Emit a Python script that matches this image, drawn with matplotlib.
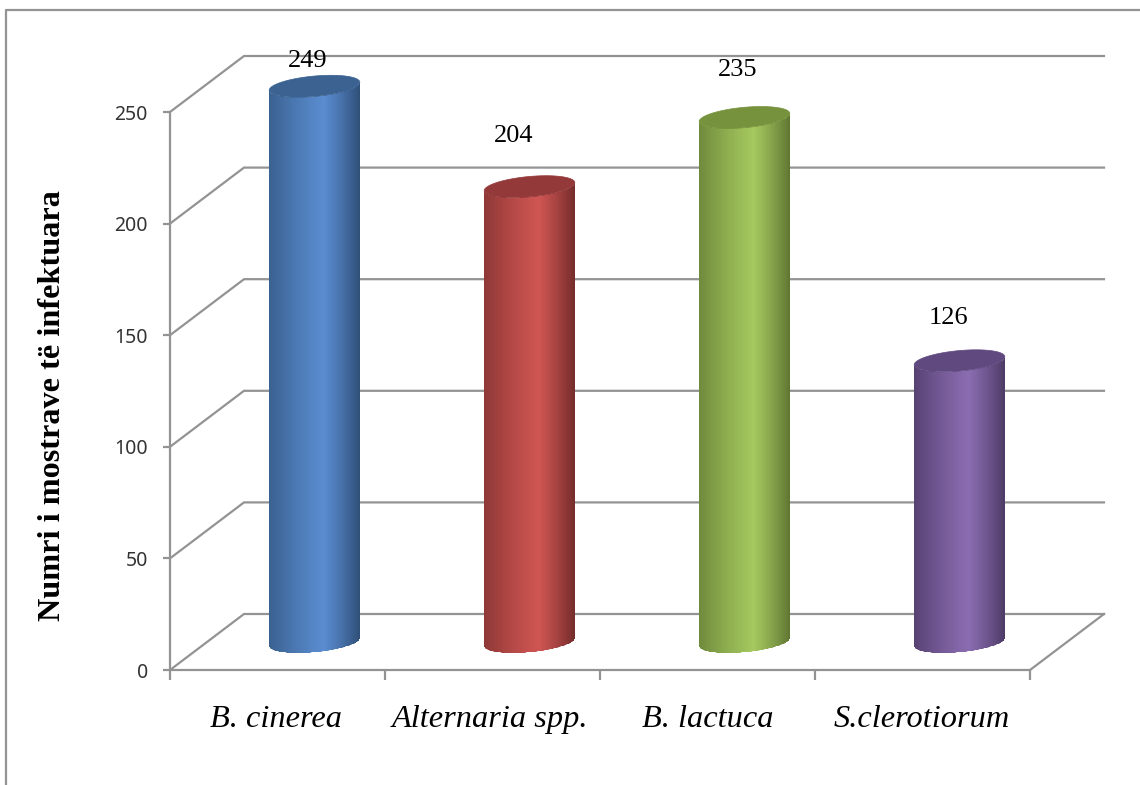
import numpy as np
import matplotlib
matplotlib.use("Agg")
import matplotlib.pyplot as plt
from matplotlib.colors import LinearSegmentedColormap
from matplotlib.lines import Line2D
from matplotlib.patches import PathPatch, Polygon
from matplotlib.path import Path

categories = ["B. cinerea", "Alternaria spp.", "B. lactuca", "S.clerotiorum"]
values = [249, 204, 235, 126]
y_ticks = [0, 50, 100, 150, 200, 250]

# left edge, centre, right edge, top cap
bar_colors = [
    ("#3a618f", "#5a8cd0", "#2f4f78", "#3b6291"),
    ("#8e3836", "#cf5552", "#742c2b", "#94393a"),
    ("#6f8a3b", "#a5c85f", "#5f7632", "#76923c"),
    ("#574273", "#8a6cb0", "#4d3b66", "#60497f"),
]

W, H = 1140, 785
LEFT, RIGHT, TOP, BOTTOM = 170, 1030, 112, 670
GRAY = "#939393"

fig = plt.figure(figsize=(W / 100, H / 100), dpi=100, facecolor="white")
ax = fig.add_axes([LEFT / W, 1 - BOTTOM / H, (RIGHT - LEFT) / W, (BOTTOM - TOP) / H])
ax.set_xlim(0, len(categories))
ax.set_ylim(0, 250)
ax.patch.set_visible(False)

# pixel sizes expressed in data units
px_x = len(categories) / (RIGHT - LEFT)
px_y = 250 / (BOTTOM - TOP)
depth_x, depth_y = 74 * px_x, 56 * px_y

# walls of the 3d box
for v in y_ticks:
    ax.plot([0, depth_x, len(categories) + depth_x], [v, v + depth_y, v + depth_y],
            color=GRAY, lw=1.6, clip_on=False, zorder=1, solid_joinstyle="miter")
ax.plot([len(categories), len(categories) + depth_x], [0, depth_y],
        color=GRAY, lw=1.6, clip_on=False, zorder=1)


def ellipse(cx, cy, t):
    # tilted ellipse: right end sits a little higher than the left one
    x = cx + 45.3 * px_x * np.cos(t)
    y = cy + (10.2 * np.sin(t) + 4.0 * np.cos(t)) * px_y
    return x, y


t_low = np.linspace(np.pi, 2 * np.pi, 80)
t_all = np.linspace(0, 2 * np.pi, 160)

for i, (val, cols) in enumerate(zip(values, bar_colors)):
    cx = i + 0.5 + depth_x / 2
    base = depth_y / 2
    top = base + val

    # body outline: bottom rim, then straight up to the top cap
    bx, by = ellipse(cx, base, t_low)
    tx, ty = ellipse(cx, top, t_low[::-1])
    outline = np.column_stack([np.r_[bx, tx], np.r_[by, ty]])
    patch = Polygon(outline, closed=True, facecolor="none", edgecolor="none",
                    transform=ax.transData, clip_on=False)
    ax.add_patch(patch)

    # falloff from the highlight towards both edges
    cmap = LinearSegmentedColormap.from_list(
        f"cyl{i}", [(0, cols[0]), (0.6, cols[1]), (1, cols[2])])
    xs = np.linspace(cx - 45.3 * px_x, cx + 45.3 * px_x, 92)
    ys = [by.min() - 1, ty.max() + 1]
    shade = (xs[:-1] + xs[1:]) / 2
    shade = (shade - xs[0]) / (xs[-1] - xs[0])
    # mostly linear ramp, eased a bit around the highlight
    eased = np.where(shade < 0.6,
                     0.6 * np.sin(shade / 0.6 * np.pi / 2),
                     0.6 + 0.4 * (1 - np.cos((shade - 0.6) / 0.4 * np.pi / 2)))
    ramp = 0.75 * shade + 0.25 * eased
    mesh = ax.pcolormesh(xs, ys, ramp[np.newaxis, :], cmap=cmap, vmin=0, vmax=1,
                         shading="flat", zorder=3)
    mesh.set_clip_box(fig.bbox)
    mesh.set_clip_path(patch)

    # top cap
    cap_x, cap_y = ellipse(cx, top, t_all)
    verts = np.column_stack([cap_x, cap_y])
    ax.add_patch(PathPatch(Path(verts, closed=False), facecolor=cols[3], edgecolor=cols[3],
                           lw=0.5, clip_on=False, zorder=4))

ax.set_xlim(0, len(categories))
ax.set_ylim(0, 250)

# value labels sit at uneven heights above the bars
label_dx = [-7, -16, -7, -11]
label_dy = [25, 51, 47, 43]
for i, val in enumerate(values):
    cx = i + 0.5 + depth_x / 2
    ax.annotate(str(val), (cx, depth_y / 2 + val), xytext=(label_dx[i] * 0.72, label_dy[i] * 0.72),
                textcoords="offset points", ha="center", va="center",
                family="Liberation Serif", fontsize=19, color="black", zorder=6,
                annotation_clip=False)

for side in ("top", "right"):
    ax.spines[side].set_visible(False)
for side in ("left", "bottom"):
    ax.spines[side].set_color(GRAY)
    ax.spines[side].set_linewidth(1.6)
    ax.spines[side].set_zorder(2)

ax.set_yticks(y_ticks)
ax.tick_params(axis="y", length=5, width=1.6, color=GRAY, pad=11,
               labelsize=14, labelfontfamily="Noto Sans", labelcolor="#333333")
ax.set_xticks(range(len(categories) + 1))
ax.set_xticklabels([])
ax.tick_params(axis="x", length=7, width=1.6, color=GRAY)

label_x = [275.5, 490, 707.5, 922]
for i, name in enumerate(categories):
    fig.text(label_x[i] / W, 1 - 727 / H, name, ha="center", va="baseline",
             family="Liberation Serif", style="italic", fontsize=23.3, color="black")

fig.text(53 / W, 1 - 406 / H, "Numri i mostrave të infektuara", rotation=90,
         ha="center", va="center", family="Liberation Serif", weight="bold",
         fontsize=23.2, color="black")

# outer frame, open towards the right and bottom
fig.add_artist(Line2D([6 / W, 6 / W, 1], [0, 1 - 10 / H, 1 - 10 / H],
                      color=GRAY, lw=1.6, transform=fig.transFigure))

fig.savefig("out.png", dpi=100)
plt.close(fig)
